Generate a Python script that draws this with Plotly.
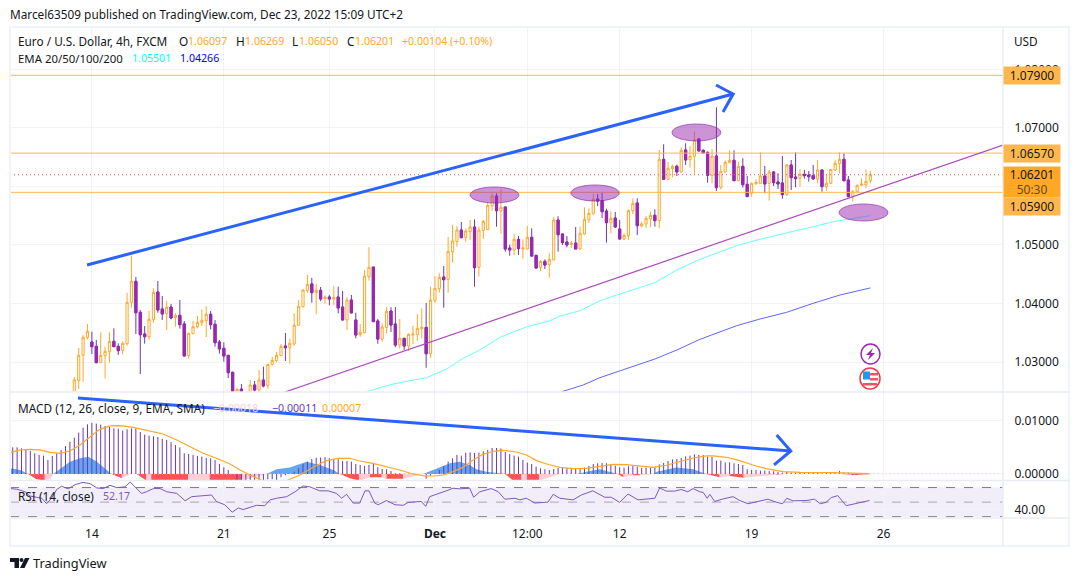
import plotly.graph_objects as go

# EUR/USD 4h candles, bar 0 is the first one above the bottom of the price pane
opens = [1.02407,1.02681,1.03114,1.03416,1.03342,1.03268,1.02988,1.03108,1.03176,1.03353,
1.03268,1.03194,1.03313,1.04020,1.04379,1.03849,1.03479,1.03433,1.03724,1.04197,
1.03906,1.03827,1.03940,1.03758,1.03798,1.03650,1.03108,1.03484,1.03604,1.03672,
1.03707,1.03815,1.03644,1.03342,1.03234,1.03114,1.02823,1.02407,1.02538,1.02350,
1.02435,1.02607,1.02521,1.02692,1.02595,1.02960,1.03023,1.03108,1.03273,1.03245,
1.03308,1.03627,1.03946,1.04220,1.04334,1.04185,1.04225,1.04083,1.04111,1.04077,
1.04111,1.03940,1.03718,1.04060,1.03718,1.03466,1.03500,1.04458,1.04623,1.03701,
1.03392,1.03591,1.03871,1.03649,1.03290,1.03404,1.03272,1.03461,1.03466,1.03569,
1.03591,1.03141,1.04048,1.04253,1.04452,1.04412,1.04885,1.05057,1.05256,1.05125,
1.05228,1.05307,1.04618,1.05250,1.05262,1.05672,1.05837,1.05586,1.05649,1.04948,
1.04914,1.05096,1.04931,1.04931,1.05131,1.04823,1.04612,1.04720,1.04663,1.04743,
1.05427,1.05188,1.05051,1.05011,1.05034,1.04931,1.05188,1.05433,1.05535,1.05786,
1.05758,1.05580,1.05381,1.05461,1.05273,1.05102,1.05159,1.05586,1.05718,1.05324,
1.05359,1.05444,1.05507,1.05416,1.06464,1.06122,1.06305,1.06345,1.06248,1.06624,
1.06459,1.06516,1.06812,1.06618,1.06584,1.06191,1.06521,1.05980,1.06248,1.06407,
1.06447,1.06099,1.06345,1.06037,1.05883,1.06048,1.06054,1.06179,1.06054,1.06248,
1.06077,1.06060,1.05860,1.06368,1.06162,1.06140,1.06208,1.06197,1.06185,1.06128,
1.06282,1.05997,1.06054,1.06282,1.06390,1.06464,1.06111,1.05826,1.05912,1.06020,
1.06026,1.06097]
highs = [1.02743,1.03239,1.03461,1.03650,1.03518,1.03376,1.03507,1.03262,1.03507,1.03576,
1.03319,1.03353,1.04180,1.04818,1.04453,1.03889,1.03615,1.03872,1.04259,1.04385,
1.04128,1.04043,1.03992,1.03832,1.04060,1.03701,1.03501,1.03701,1.03786,1.03900,
1.03957,1.03872,1.03718,1.03376,1.03336,1.03114,1.02835,1.02550,1.02624,1.02464,
1.02692,1.02675,1.02863,1.02920,1.02966,1.03085,1.03171,1.03308,1.03496,1.03399,
1.03832,1.04060,1.04248,1.04487,1.04436,1.04334,1.04282,1.04140,1.04146,1.04299,
1.04288,1.04214,1.04106,1.04146,1.03843,1.03649,1.04572,1.04965,1.04623,1.03734,
1.03660,1.03939,1.03934,1.03939,1.03734,1.03415,1.03489,1.03620,1.03818,1.03917,
1.04008,1.04287,1.04469,1.04515,1.04640,1.05136,1.05342,1.05324,1.05393,1.05284,
1.05427,1.05438,1.05313,1.05427,1.05729,1.05883,1.05883,1.05951,1.05655,1.05005,
1.05188,1.05153,1.05096,1.05324,1.05284,1.04829,1.04743,1.04754,1.04857,1.05478,
1.05490,1.05188,1.05153,1.05068,1.05307,1.05313,1.05644,1.05626,1.05872,1.05872,
1.05894,1.05621,1.05575,1.05564,1.05427,1.05199,1.05609,1.05798,1.05798,1.05399,
1.05495,1.05570,1.05610,1.06624,1.06721,1.06419,1.06373,1.06373,1.06670,1.06738,
1.06692,1.06943,1.06824,1.06635,1.06596,1.06641,1.07354,1.06368,1.06442,1.06618,
1.06618,1.06425,1.06482,1.06179,1.06065,1.06122,1.06584,1.06350,1.06282,1.06265,
1.06225,1.06521,1.06385,1.06453,1.06584,1.06293,1.06282,1.06265,1.06368,1.06453,
1.06282,1.06197,1.06293,1.06453,1.06584,1.06567,1.06179,1.05940,1.06031,1.06140,
1.06293,1.06269]
lows = [1.02350,1.02538,1.02664,1.03387,1.03137,1.02988,1.02988,1.02715,1.02988,1.03262,
1.03120,1.03131,1.03279,1.03929,1.03479,1.02795,1.03313,1.03382,1.03672,1.03843,
1.03718,1.03547,1.03730,1.03604,1.03570,1.03102,1.03057,1.03484,1.03576,1.03615,
1.03427,1.03558,1.03262,1.03143,1.03005,1.02726,1.02322,1.02350,1.02293,1.02293,
1.02407,1.02487,1.02487,1.02567,1.02544,1.02943,1.02994,1.03102,1.03017,1.02971,
1.03279,1.03615,1.03935,1.04185,1.04014,1.03821,1.04043,1.03997,1.03969,1.03969,
1.03832,1.03712,1.03547,1.03838,1.03405,1.03432,1.03489,1.04390,1.03689,1.03312,
1.03346,1.03489,1.03512,1.03255,1.03233,1.03204,1.03187,1.03307,1.03364,1.03404,
1.02902,1.03073,1.04013,1.04184,1.03928,1.04184,1.04697,1.04971,1.05114,1.05057,
1.05085,1.04287,1.04458,1.05102,1.05256,1.05586,1.05313,1.05193,1.04885,1.04817,
1.04829,1.04829,1.04766,1.04925,1.04800,1.04600,1.04555,1.04589,1.04441,1.04743,
1.04885,1.05000,1.04960,1.04954,1.04925,1.04925,1.05176,1.05381,1.05518,1.05666,
1.05461,1.05040,1.05199,1.05296,1.05102,1.05085,1.05085,1.05529,1.05170,1.05302,
1.05285,1.05302,1.05313,1.05285,1.06111,1.06111,1.06157,1.06179,1.06236,1.06368,
1.06322,1.06214,1.06607,1.06567,1.06065,1.06054,1.05923,1.05951,1.06236,1.06407,
1.06099,1.06099,1.05980,1.05826,1.05826,1.06026,1.06043,1.05883,1.05758,1.06008,
1.05957,1.05792,1.05837,1.05940,1.05986,1.05997,1.06134,1.06083,1.06122,1.06054,
1.05912,1.05929,1.06043,1.06265,1.06225,1.06088,1.05826,1.05741,1.05894,1.06008,
1.05969,1.06050]
closes = [1.02692,1.03114,1.03422,1.03524,1.03262,1.02988,1.03114,1.03182,1.03353,1.03262,
1.03194,1.03319,1.04020,1.04379,1.03843,1.03467,1.03433,1.03730,1.04191,1.03889,
1.03821,1.03935,1.03752,1.03798,1.03638,1.03102,1.03490,1.03604,1.03678,1.03712,
1.03815,1.03638,1.03330,1.03222,1.03102,1.02817,1.02407,1.02532,1.02407,1.02435,
1.02607,1.02521,1.02692,1.02590,1.02960,1.03028,1.03114,1.03268,1.03245,1.03319,
1.03627,1.03952,1.04231,1.04328,1.04185,1.04225,1.04077,1.04111,1.04077,1.04106,
1.03923,1.03718,1.04060,1.03838,1.03461,1.03506,1.04469,1.04618,1.03689,1.03392,
1.03597,1.03865,1.03632,1.03290,1.03404,1.03272,1.03472,1.03478,1.03575,1.03591,
1.03141,1.04059,1.04259,1.04446,1.04407,1.04891,1.05068,1.05256,1.05125,1.05239,
1.05307,1.04612,1.05256,1.05404,1.05678,1.05837,1.05586,1.05644,1.04931,1.04914,
1.05096,1.04937,1.04948,1.05131,1.04811,1.04606,1.04720,1.04657,1.04754,1.05427,
1.05176,1.05040,1.05000,1.05034,1.04931,1.05199,1.05438,1.05541,1.05780,1.05752,
1.05569,1.05381,1.05455,1.05307,1.05102,1.05165,1.05586,1.05712,1.05330,1.05359,
1.05456,1.05507,1.05416,1.06464,1.06122,1.06311,1.06345,1.06248,1.06618,1.06453,
1.06516,1.06795,1.06607,1.06573,1.06191,1.06516,1.05980,1.06259,1.06413,1.06447,
1.06099,1.06345,1.06031,1.05826,1.06054,1.06071,1.06179,1.06043,1.06248,1.06065,
1.06043,1.05860,1.06368,1.06151,1.06134,1.06208,1.06185,1.06168,1.06128,1.06282,
1.05997,1.06054,1.06293,1.06396,1.06464,1.06099,1.05826,1.05912,1.06020,1.06043,
1.06088,1.06201]

# EMA lines read at some bars
ema100_x = [66.5,71.8,75.6,80.1,84.7,88.4,92.2,96.8,102.9,108.2,110.4,115.0,119.5,125.6,132.0,137.0,141.9,144.9,150.6,155.9,162.0,168.0,172.6,177.1,181]
ema100_y = [1.02492,1.02612,1.02670,1.02732,1.02880,1.03063,1.03205,1.03422,1.03603,1.03706,1.03786,1.03877,1.04048,1.04202,1.04356,1.04573,1.04744,1.04829,1.04988,1.05097,1.05200,1.05313,1.05398,1.05456,1.05501]
ema200_x = [110.8,115.7,119.5,125.6,132.0,137.0,141.9,144.9,150.6,155.9,162.0,168.0,174.1,181]
ema200_y = [1.02492,1.02607,1.02732,1.02892,1.03051,1.03205,1.03376,1.03462,1.03620,1.03735,1.03850,1.04003,1.04145,1.04266]

# drawn on the chart by the author
levels = [1.079, 1.0657, 1.059]
last_price = 1.06201
trend_x = [47.9, 211.2]
trend_y = [1.02487, 1.0671]
up_arrow_x = [2.89, 149.8, 145.9, 149.8, 147.5]
up_arrow_y = [1.04658, 1.07581, 1.07735, 1.07581, 1.07274]
macd_arrow_x = [0.83, 162.9, 159.7, 162.9, 159.1]
macd_arrow_y = [0.01434, 0.00434, 0.00736, 0.00434, 0.0017]
ellipse_x0 = [89.97, 112.9, 135.9, 173.9]
ellipse_x1 = [101.1, 123.9, 147.0, 185.0]
ellipse_y0 = [1.05718, 1.05752, 1.06778, 1.05410]
ellipse_y1 = [1.05991, 1.06026, 1.07068, 1.05701]

# MACD pane, values in points (1e-5), bars start 14 bars left of the first candle
macd_start = -14
macd_bars = [503,503,484,453,434,390,359,346,264,340,390,453,528,610,686,780,874,937,962,950,
931,906,893,862,855,818,843,862,862,792,742,723,711,698,660,642,598,547,503,390,
377,359,340,327,302,296,264,189,126,75,0,
-120,-120,-120,-120,-120,-120,-120,-101,-101,-120,-63,-25,0,44,107,189,233,283,308,308,315,296,283,277,245,245,233,189,170,
151,170,201,126,94,88,57,13,13,6,6,6,0,0,-88,-38,13,75,151,233,296,359,346,403,409,396,403,428,453,491,491,484,415,377,346,327,264,214,189,138,107,88,75,94,113,120,113,113,101,101,120,151,189,201,208,201,182,157,126,120,145,151,138,113,120,120,126,182,208,245,277,283,302,333,346,371,359,
359,327,327,252,252,220,220,201,189,170,88,75,75,63,63,57,50,38,25,44,25,19,19,19,19,19,19,13,19,25,25,57,25,25,-13,-13,0,0,0]
signal_x = [-14.6,-12.3,-10.1,-7.8,-5.5,-3.3,-1.0,1.3,3.6,5.8,8.1,10.4,13.4,17.2,20.2,23.3,26.3,29.3,32.3,35.4,37.7,39.9,42.2,43.7,47.5,48.6,51.3,54.3,57.3,60.0,62.7,64.9,67.9,71.0,74.0,77.0,79.7,81.9,83.9,86.1,88.4,90.7,92.9,95.2,97.5,100.5,102.8,105.1,107.4,110.4,113.4,116.4,119.5,122.5,125.5,128.6,131.6,134.6,137.6,140.7,143.7,145.2,148.3,151.3,154.3,157.3,161.1,165.0,172.5,180.8]
signal_y = [403,453,465,453,409,390,434,547,704,843,906,912,881,805,755,642,516,390,296,189,75,-19,-101,-176,-208,-113,-19,126,252,296,296,245,201,138,75,0,-38,-38,-19,44,126,264,371,428,447,415,359,252,189,126,101,107,151,182,176,151,126,164,226,302,340,340,315,252,170,101,44,31,25,6]
# histogram area, state says which colour runs from that point on
hist_x = [-14.6,-12.3,-10.5,-8.6,-6.7,-5.5,-4.8,-3.3,-1.0,1.3,3.2,5.1,7.4,8.5,10.8,12.7,14.2,16.4,17.5,25.9,30.8,38.0,43.7,46,49,52.8,55.8,58.9,60.4,62.7,64.8,67.2,69.9,71,74.8,79.3,82.4,85.4,87.6,89.9,91.4,93.7,98.0,99.8,101.7,102.9,105.7,110.4,114.5,116.4,119.5,122.5,123.6,124.8,127.0,128.6,131.6,132.4,136.9,140.7,143.7,146.7,149,152.2,159.6,161.1,172,174.5,177.5,181]
hist_y = [107,75,0,-101,-130,-101,0,88,233,296,327,233,75,0,-82,0,0,-130,-130,-130,-130,-130,0,88,120,233,170,75,0,-82,-130,-63,-63,-88,-88,0,107,201,233,170,88,44,0,-130,-130,-130,-130,0,0,44,88,25,0,-63,-25,-25,0,44,120,88,0,-63,-38,-70,-13,0,10,0,-20,0]
hist_state = ['B','B','R','R','P','P','B','B','B','B','B','B','B','R','P','P','R','P','R','P','R','P','B','B','B','B','B','B','R','R','P','R','P','R','P','B','B','B','B','B','B','B','R','R','P','R','P','B','B','B','B','B','R','P','R','P','B','B','B','B','R','P','R','P','R','B','B','R','R','R']

# RSI read at its turning points
rsi_x = [-14.6,-13.1,-11.2,-10.1,-8.6,-7.4,-6.3,-5.2,-4.0,-2.9,-1.4,0.2,2.0,3.6,5.1,6.6,8.1,9.6,11.5,12.7,13.8,15.3,16.4,18.0,19.5,21.0,23.3,25.2,26.7,29.3,31.2,32.3,34.2,35.9,37.3,38.4,41.4,43.3,44.5,46.0,48.3,50.2,52.0,53.6,55.8,57.7,59.6,60.8,61.9,63.4,
64.9,66.1,67.0,68.3,69.1,71.0,72.9,74.8,75.9,78.9,79.9,80.8,83.1,85.0,86.1,87.6,89.9,90.8,92.2,94.8,96.4,97.9,100.2,101.3,102.8,104.7,107.7,108.9,110.4,113.4,115.3,117.9,120.6,122.1,124.0,125.9,128.2,132.0,133.1,134.6,136.5,138.0,139.5,140.7,142.2,
143.0,143.9,144.5,145.6,147.5,149.8,151.3,153.2,154.7,156.6,157.7,159.6,161.0,162.0,163.4,166.4,168.3,169.6,170.9,172.1,173.6,175.5,178.5,180.8]
rsi_y = [68.6,67.8,64.2,58.4,56.7,55.3,47.8,55.3,67.3,71.8,68.2,74.0,77.1,75.3,69.5,68.6,73.1,70.0,70.9,77.5,70.9,62.0,64.2,68.6,68.6,64.2,62.0,51.8,57.5,58.4,59.8,50.9,46.4,36.2,42.0,39.8,45.6,45.1,53.1,55.3,57.5,64.2,72.2,70.9,65.5,65.5,62.0,55.3,60.7,48.7,
48.7,65.5,65.5,48.7,46.4,52.2,46.4,45.6,49.6,50.9,44.2,57.5,62.0,66.4,69.1,68.2,69.1,56.7,64.2,68.6,64.2,54.0,55.3,53.1,55.3,48.7,50.0,60.7,55.3,53.1,59.8,65.5,56.7,56.7,49.6,61.1,53.1,55.3,69.5,65.1,65.1,67.3,64.2,68.6,64.2,
63.3,55.3,60.7,50.9,54.4,57.5,52.2,47.8,50.0,52.2,54.0,50.0,47.8,55.3,51.8,52.2,54.0,47.8,49.6,56.2,58.9,45.1,48.7,52.2]
rsi_levels = [70, 50, 30]

# axes
date_ticks = [4, 34, 58, 82, 103, 124, 154, 184]
date_labels = ['14', '21', '25', '<b>Dec</b>', '12:00', '12', '19', '26']
price_ticks = [1.03, 1.04, 1.05, 1.06, 1.07, 1.08]
macd_ticks = [0, 0.01]
rsi_ticks = [40]

W, H = 1079, 581
LEFT, RIGHT, TOP, BOTTOM = 10, 1003, 27, 518
FONT = 'Noto Sans, sans-serif'
INK = '#131722'
ORANGE = '#FFA726'
LEVEL = '#FFB74D'
XMIN, XMAX = -14.62, 211.16
TEXT_SIZE = 11.8
VALUE_SIZE = 10.6


def px(x):
    return (x - LEFT) / (RIGHT - LEFT)


def py(y):
    return (BOTTOM - y) / (BOTTOM - TOP)


def pane_line(x, y, color, width=1, dash='solid', yaxis='y'):
    return go.Scatter(x=x, y=y, mode='lines', line={'color': color, 'width': width, 'dash': dash},
                      yaxis=yaxis, hoverinfo='skip', showlegend=False)


bars = list(range(len(opens)))
down = [i for i in bars if closes[i] < opens[i]]
fig = go.Figure()

for lv in levels:
    fig.add_trace(pane_line([XMIN, XMAX], [lv, lv], LEVEL, 1))
fig.add_trace(pane_line([XMIN, XMAX], [last_price, last_price], '#EF5350', 1, '1px,3px'))
fig.add_trace(pane_line(ema100_x, ema100_y, '#66FFFF', 1))
fig.add_trace(pane_line(ema200_x, ema200_y, '#6464FF', 1))
fig.add_trace(pane_line(trend_x, trend_y, '#AB47BC', 1.2))

# wicks and hollow bodies, then the filled bodies of the falling bars on top
fig.add_trace(go.Candlestick(x=bars, open=opens, high=highs, low=lows, close=closes, whiskerwidth=0,
                             increasing={'line': {'color': ORANGE, 'width': 1}, 'fillcolor': 'rgba(0,0,0,0)'},
                             decreasing={'line': {'color': '#673AB7', 'width': 1}, 'fillcolor': '#9C27B0'},
                             hoverinfo='skip', showlegend=False))
fig.add_trace(go.Candlestick(x=down, open=[opens[i] for i in down], close=[closes[i] for i in down],
                             high=[opens[i] for i in down], low=[closes[i] for i in down], whiskerwidth=0,
                             decreasing={'line': {'color': '#9C27B0', 'width': 1}, 'fillcolor': '#9C27B0'},
                             hoverinfo='skip', showlegend=False))
fig.add_trace(pane_line(up_arrow_x, up_arrow_y, '#2962FF', 3))

# macd pane
state_colors = {'B': '#64A5F0', 'R': '#FF5252', 'P': '#FFCDD2'}
start = 0
for i in range(1, len(hist_x) + 1):
    if i == len(hist_x) or hist_state[i] != hist_state[start]:
        end = min(i + 1, len(hist_x))
        fig.add_trace(go.Scatter(x=hist_x[start:end], y=[v / 1e5 for v in hist_y[start:end]], mode='lines',
                                 line={'width': 0}, fill='tozeroy', fillcolor=state_colors[hist_state[start]],
                                 yaxis='y2', hoverinfo='skip', showlegend=False))
        start = i
fig.add_trace(pane_line([XMIN, XMAX], [0, 0], '#FFCDD2', 1, '1px,3px', 'y2'))
# plotly widens thin bars to 2px, so the 1px columns go in as one broken line
stem_x, stem_y = [], []
for i in range(len(macd_bars)):
    stem_x += [macd_start + i, macd_start + i, None]
    stem_y += [0, macd_bars[i] / 1e5, None]
fig.add_trace(pane_line(stem_x, stem_y, '#673AB7', 1, yaxis='y2'))
fig.add_trace(pane_line(signal_x, [v / 1e5 for v in signal_y], ORANGE, 1.2, yaxis='y2'))
fig.add_trace(pane_line(macd_arrow_x, macd_arrow_y, '#2962FF', 3, yaxis='y2'))

# rsi pane
for lv in rsi_levels:
    fig.add_trace(pane_line([XMIN, XMAX], [lv, lv], '#787B86' if lv != 50 else '#A8A8B4', 1, 'dash', 'y3'))
fig.add_trace(pane_line(rsi_x, rsi_y, '#7E57C2', 1, yaxis='y3'))

shapes = []
# rsi band
shapes.append(dict(type='rect', xref='x', yref='y3', x0=XMIN, x1=XMAX, y0=rsi_levels[2], y1=rsi_levels[0],
                   fillcolor='rgba(126,87,194,0.1)', line_width=0, layer='below'))
for i in range(len(ellipse_x0)):
    shapes.append(dict(type='circle', xref='x', yref='y', x0=ellipse_x0[i], x1=ellipse_x1[i],
                       y0=ellipse_y0[i], y1=ellipse_y1[i], fillcolor='rgba(156,39,176,0.5)',
                       line={'color': 'rgba(123,31,162,0.6)', 'width': 1}))


def box(x0, y0, x1, y1, **kw):
    return dict(type='rect', xref='paper', yref='paper', x0=px(x0), x1=px(x1), y0=py(y0), y1=py(y1), **kw)


def ring(x0, y0, x1, y1, **kw):
    return dict(type='circle', xref='paper', yref='paper', x0=px(x0), x1=px(x1), y0=py(y0), y1=py(y1), **kw)


def poly(points, color):
    path = 'M ' + ' L '.join('{:.5f},{:.5f}'.format(px(a), py(b)) for a, b in points) + ' Z'
    return dict(type='path', xref='paper', yref='paper', path=path, fillcolor=color, line_width=0)


# frame and pane separators
FRAME = '#E9ECF2'
shapes.append(box(10, 27, 1069, 546, line={'color': '#F0F3FA', 'width': 2}, fillcolor='rgba(0,0,0,0)'))
for yy in [392, 480.5, 518]:
    shapes.append(dict(type='line', xref='paper', yref='paper', x0=px(10), x1=px(1069), y0=py(yy), y1=py(yy),
                       line={'color': FRAME, 'width': 1.5}))
shapes.append(dict(type='line', xref='paper', yref='paper', x0=px(1003), x1=px(1003), y0=py(27), y1=py(546),
                   line={'color': FRAME, 'width': 1.5}))

# news and earnings icons
shapes.append(ring(861, 344, 880, 364, fillcolor='white', line={'color': '#9C27B0', 'width': 1.5}))
shapes.append(poly([(873, 348), (866, 355), (870, 355), (868, 360), (875, 353), (871, 353)], '#9C27B0'))
shapes.append(ring(860, 368, 880, 389, fillcolor='white', line={'color': '#F23645', 'width': 1.5}))
shapes.append(box(863, 371.5, 870, 379.5, fillcolor='#2196F3', line_width=0))
shapes.append(box(870, 373, 878, 375.5, fillcolor='#F7525F', line_width=0))
shapes.append(box(870, 378, 878, 380.5, fillcolor='#F7525F', line_width=0))
shapes.append(box(863, 383, 877, 385.5, fillcolor='#F7525F', line_width=0))

# TradingView mark
shapes.append(poly([(10, 558), (19, 558), (19, 568), (14.5, 568), (14.5, 562), (10, 562)], INK))
shapes.append(ring(19.5, 558, 23.5, 562, fillcolor=INK, line_width=0))
shapes.append(poly([(25, 558), (29.5, 558), (24.5, 568), (20, 568)], INK))


def text(x, y, s, color=INK, size=TEXT_SIZE):
    # annotations pad their text by about 2px
    return dict(xref='paper', yref='paper', x=px(x - 2), y=py(y), text=s, showarrow=False, xanchor='left',
                yanchor='middle', align='left', font={'family': FONT, 'size': size, 'color': color})


def price_tag(level, s, color=LEVEL, height=17, shift=0):
    return dict(xref='paper', yref='y', x=px(1003), y=level, yshift=shift, text=s, showarrow=False, xanchor='left',
                yanchor='middle', width=56, height=height, bgcolor=color, borderpad=0, align='center',
                font={'family': FONT, 'size': 12, 'color': INK})


annotations = [
    text(10, 14, 'Marcel63509 published on TradingView.com, Dec 23, 2022 15:09 UTC+2'),
    text(18, 41, 'Euro / U.S. Dollar, 4h, FXCM'),
    text(179, 41, 'O'), text(188, 41, '1.06097', ORANGE, VALUE_SIZE),
    text(236, 41, 'H'), text(245, 41, '1.06269', ORANGE, VALUE_SIZE),
    text(292, 41, 'L'), text(299, 41, '1.06050', ORANGE, VALUE_SIZE),
    text(347, 41, 'C'), text(355, 41, '1.06201', ORANGE, VALUE_SIZE),
    text(402, 41, '+0.00104 (+0.10%)', ORANGE, VALUE_SIZE),
    text(18, 58, 'EMA 20/50/100/200', INK, 11.4),
    text(132, 58, '1.05501', '#00FFFF', VALUE_SIZE),
    text(180, 58, '1.04266', '#0000FF', VALUE_SIZE),
    text(18, 408, 'MACD (12, 26, close, 9, EMA, SMA)'),
    text(213, 408, '\u22120.00018', '#FFCDD2', VALUE_SIZE),
    text(272, 408, '\u22120.00011', '#673AB7', VALUE_SIZE),
    text(322, 408, '0.00007', ORANGE, VALUE_SIZE),
    text(18, 496, 'RSI (14, close)'),
    text(103, 496, '52.17', '#7E57C2', VALUE_SIZE),
    text(1014, 41, 'USD'),
    text(33, 563, 'TradingView', INK, 12.8),
    price_tag(levels[0], '1.07900'),
    price_tag(levels[1], '1.06570'),
    price_tag(levels[2], '1.05900', shift=-14),
    price_tag(last_price, '1.06201<br><span style="color:#6B4A12">50:30</span>', ORANGE, 30, -7),
]

tick_font = {'family': FONT, 'size': 12, 'color': INK}
grid = '#F0F3FA'
y_common = {'anchor': 'x', 'side': 'right', 'tickmode': 'array', 'gridcolor': grid, 'zeroline': False,
            'tickfont': tick_font, 'ticks': 'outside', 'ticklen': 8, 'tickcolor': 'rgba(0,0,0,0)'}
fig.update_layout(
    width=W, height=H, margin={'l': LEFT, 'r': W - RIGHT, 't': TOP, 'b': H - BOTTOM, 'pad': 0},
    paper_bgcolor='white', plot_bgcolor='white', showlegend=False, boxgap=0.3,
    shapes=shapes, annotations=annotations,
    xaxis={'range': [XMIN, XMAX], 'anchor': 'y3', 'tickmode': 'array', 'tickvals': date_ticks, 'ticktext': date_labels,
           'showgrid': True, 'gridcolor': grid, 'gridwidth': 1, 'zeroline': False, 'showline': False,
           'ticks': 'outside', 'ticklen': 5, 'tickcolor': 'rgba(0,0,0,0)', 'tickfont': tick_font,
           'rangeslider': {'visible': False}},
    yaxis={'domain': [0.2566, 1], 'range': [1.02487, 1.08726], 'tickvals': price_ticks, 'tickformat': '.5f', **y_common},
    yaxis2={'domain': [0.0764, 0.2566], 'range': [-0.00123, 0.01547], 'tickvals': macd_ticks, 'tickformat': '.5f', **y_common},
    yaxis3={'domain': [0, 0.0764], 'range': [28.2, 79.7], 'tickvals': rsi_ticks, 'tickformat': '.2f', **y_common},
)

fig.write_html('out.html', config={'displayModeBar': False},
               post_script="document.body.style.margin='0';document.body.style.overflow='hidden';")
